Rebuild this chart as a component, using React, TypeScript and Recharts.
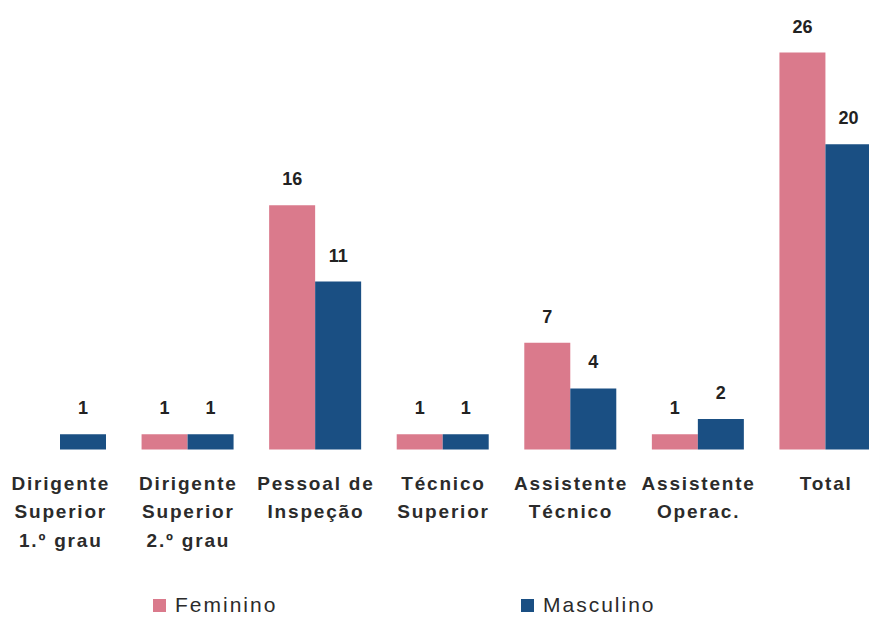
import { BarChart, Bar, XAxis, YAxis, LabelList, Legend } from 'recharts';

const categories = [
  'Dirigente Superior 1.º grau',
  'Dirigente Superior 2.º grau',
  'Pessoal de Inspeção',
  'Técnico Superior',
  'Assistente Técnico',
  'Assistente Operac.',
  'Total',
];
const tickLines = [
  ['Dirigente', 'Superior', '1.º grau'],
  ['Dirigente', 'Superior', '2.º grau'],
  ['Pessoal de', 'Inspeção'],
  ['Técnico', 'Superior'],
  ['Assistente', 'Técnico'],
  ['Assistente', 'Operac.'],
  ['Total'],
];
const feminino = [null, 1, 16, 1, 7, 1, 26];
const masculino = [1, 1, 11, 1, 4, 2, 20];

const PINK = '#da7a8c';
const BLUE = '#1a4f83';
const FONT = '"Liberation Sans", Arial, sans-serif';

const rows = categories.map((c, i) => ({ name: c, Feminino: feminino[i], Masculino: masculino[i] }));

function CategoryTick({ x, y, index }: any) {
  const lines = tickLines[index] || [];
  return (
    <text x={x} y={y + 40} textAnchor="middle" fill="#2b2b2b" fontFamily={FONT} fontWeight="bold" fontSize={19} letterSpacing={1.8}>
      {lines.map((l, i) => <tspan key={i} x={x + 1} dy={i === 0 ? 0 : 28.7}>{l}</tspan>)}
    </text>
  );
}

function LegendBox() {
  const items = [{ label: 'Feminino', color: PINK }, { label: 'Masculino', color: BLUE }];
  return (
    <div style={{ height: 40, display: 'flex', paddingLeft: 157, paddingTop: 17, boxSizing: 'border-box' }}>
      {items.map((it) => (
        <div key={it.label} style={{ width: 414, display: 'flex', alignItems: 'center', height: 22 }}>
          <span style={{ width: 13, height: 13, background: it.color, display: 'inline-block', marginRight: 9 }} />
          <span style={{ fontFamily: FONT, fontSize: 21, letterSpacing: 2, color: '#2b2b2b', lineHeight: '22px' }}>{it.label}</span>
        </div>
      ))}
    </div>
  );
}

export default function App() {
  return (
    <div style={{ position: 'fixed', left: 0, top: 0, width: 869, height: 617, overflow: 'hidden', background: '#fff' }}>
      <div style={{ position: 'absolute', left: -4, top: 0 }}>
        <BarChart width={893} height={617} data={rows} margin={{ top: 22, right: 0, left: 0, bottom: 0 }} barGap={0} barSize={46}>
          <XAxis dataKey="name" axisLine={false} tickLine={false} tickSize={0} tickMargin={0} interval={0} height={127.5} tick={<CategoryTick />} />
          <YAxis hide domain={[0, 28]} />
          <Legend verticalAlign="bottom" height={40} content={<LegendBox />} />
          <Bar dataKey="Feminino" fill={PINK} isAnimationActive={false}>
            <LabelList dataKey="Feminino" position="top" offset={20} fill="#222" fontFamily={FONT} fontWeight="bold" fontSize={18} />
          </Bar>
          <Bar dataKey="Masculino" fill={BLUE} isAnimationActive={false}>
            <LabelList dataKey="Masculino" position="top" offset={20} fill="#222" fontFamily={FONT} fontWeight="bold" fontSize={18} />
          </Bar>
        </BarChart>
      </div>
    </div>
  );
}
